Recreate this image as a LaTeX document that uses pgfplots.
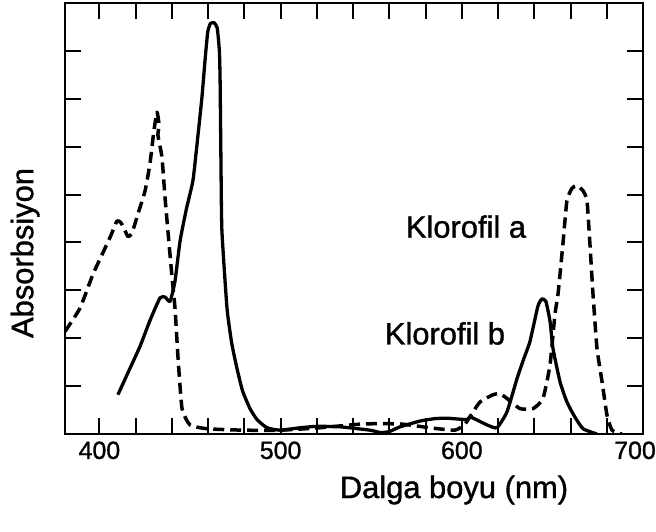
\documentclass[border=0pt]{standalone}
\usepackage{fontspec}
\setmainfont{Liberation Sans}[FakeBold=1.1]
\usepackage{pgfplots}
\pgfplotsset{compat=1.18}

% Klorofil b (solid)
\pgfplotstableread{
nm    A
410.2 0.82
416.0 1.30
422.4 1.83
428.0 2.38
433.4 2.84
436.2 2.86
439.0 2.77
441.7 3.19
444.5 4.03
448.0 4.70
451.6 5.29
454.0 6.10
456.6 7.04
458.5 7.90
459.8 8.40
461.2 8.57
463.2 8.59
465.0 8.48
466.2 8.00
466.6 7.39
467.1 5.57
467.6 4.24
470.4 2.63
473.0 1.90
475.9 1.37
479.0 0.90
483.1 0.53
487.0 0.30
492.5 0.13
499.7 0.08
510.7 0.13
520.0 0.16
532.8 0.15
549.3 0.08
555.0 0.03
560.0 0.05
565.9 0.15
576.9 0.27
585.0 0.32
591.8 0.33
602.9 0.30
604.5 0.36
609.0 0.28
613.9 0.19
619.4 0.13
624.9 0.46
630.5 1.16
634.0 1.55
637.6 1.93
642.0 2.67
644.2 2.82
646.4 2.77
648.7 2.35
650.3 1.79
654.2 1.09
658.0 0.67
662.0 0.38
666.9 0.11
674.6 0.00
}\klorb

% Klorofil a (dashed)
\pgfplotstableread{
nm    A
381.0 2.14
389.3 2.63
396.5 3.34
405.8 4.10
409.7 4.45
411.9 4.41
413.6 4.29
415.8 4.12
418.0 4.20
421.3 4.60
425.2 5.08
427.9 5.65
430.1 6.34
431.8 6.72
432.9 6.45
432.3 6.24
434.5 5.78
436.2 4.94
437.8 4.24
440.1 3.26
441.7 2.63
443.4 1.58
445.6 0.53
450.0 0.19
459.4 0.11
479.2 0.08
499.7 0.08
521.7 0.13
545.5 0.21
565.9 0.21
582.4 0.13
596.2 0.08
601.8 0.21
606.2 0.46
610.1 0.67
617.2 0.82
621.1 0.84
625.0 0.74
632.1 0.53
639.3 0.53
644.8 0.74
648.7 1.45
651.4 2.50
653.1 2.92
655.8 3.97
658.0 4.87
660.8 5.13
663.6 5.19
666.9 5.08
669.1 4.87
670.7 3.97
672.4 2.92
674.6 1.79
677.4 1.09
680.1 0.40
682.9 0.08
688.4 0.00
}\klora

\begin{document}
\begin{tikzpicture}
\begin{axis}[
  scale only axis,
  width=578bp, height=431bp,
  xmin=381, xmax=700, ymin=0, ymax=9,
  axis line style={line width=2.4bp},
  xtick={400,500,600},
  extra x ticks={700},
  extra x tick style={xticklabel style={xshift=-8bp}},
  minor xtick={420,440,...,680},
  ytick={0,1,...,9},
  yticklabels={},
  tick align=inside,
  major tick length=16bp, minor tick length=16bp,
  every tick/.style={line width=2bp, black},
  every minor tick/.style={line width=2bp, black},
  ticklabel style={font=\fontsize{25}{29}\selectfont},
  xticklabel style={yshift=-4bp},
  /pgf/number format/assume math mode=true,
  xlabel={Dalga boyu (nm)},
  ylabel={Absorbsiyon},
  xlabel style={font=\fontsize{31}{36}\selectfont,
    at={(axis description cs:0.673,-0.13)}, anchor=center},
  ylabel style={font=\fontsize{31}{36}\selectfont,
    at={(axis description cs:-0.069,0.42)}, anchor=center},
]
\addplot[black, line width=3.3bp, line join=round, smooth, tension=0.3]
  table[x=nm, y=A] {\klorb};
\addplot[black, line width=3.5bp, line join=round, smooth, tension=0.3,
  dash pattern=on 11bp off 6bp] table[x=nm, y=A] {\klora};
\node[font=\fontsize{31}{36}\selectfont] at (axis cs:602.3,4.33) {Klorofil a};
\node[font=\fontsize{31}{36}\selectfont] at (axis cs:590.7,2.10) {Klorofil b};
\end{axis}
\pgfresetboundingbox
\path[use as bounding box]
  ([shift={(-65bp,-98bp)}]current axis.south west)
  rectangle ([shift={(591bp,434bp)}]current axis.south west);
\end{tikzpicture}
\end{document}
